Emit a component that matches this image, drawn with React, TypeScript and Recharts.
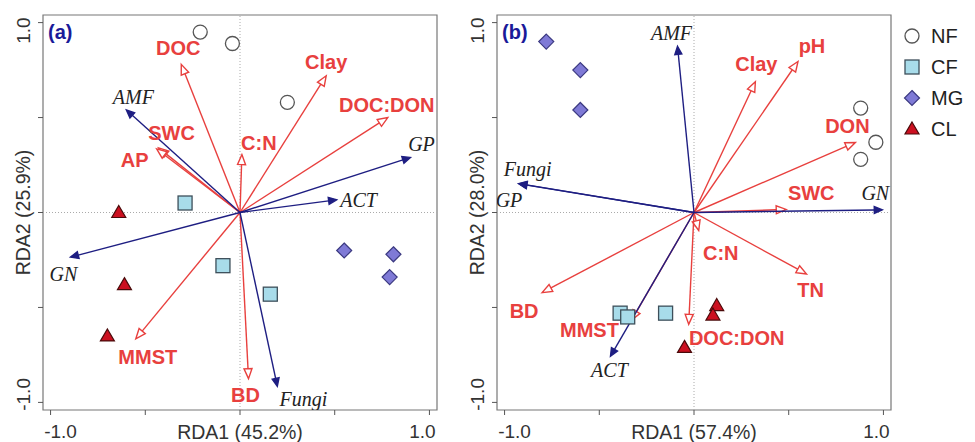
import React from 'react';
import { ScatterChart, Scatter, XAxis, YAxis, ReferenceLine, ReferenceArea } from 'recharts';

// site scores, panel (a)
const A_NF = [[-0.21, 0.95], [-0.04, 0.89], [0.25, 0.58]];
const A_CF = [[-0.29, 0.05], [-0.09, -0.28], [0.16, -0.43]];
const A_MG = [[0.55, -0.2], [0.81, -0.22], [0.79, -0.34]];
const A_CL = [[-0.64, 0.0], [-0.61, -0.38], [-0.7, -0.65]];

// site scores, panel (b)
const B_NF = [[0.88, 0.55], [0.96, 0.37], [0.88, 0.28]];
const B_CF = [[-0.39, -0.53], [-0.35, -0.55], [-0.15, -0.53]];
const B_MG = [[-0.78, 0.9], [-0.6, 0.75], [-0.6, 0.54]];
const B_CL = [[0.12, -0.49], [0.1, -0.54], [-0.05, -0.71]];

// soil variables (red arrows)
const A_ENV = ['DOC', 'Clay', 'DOC:DON', 'C:N', 'SWC', 'AP', 'MMST', 'BD'];
const A_ENV_X = [-0.31, 0.455, 0.78, 0.01, -0.43, -0.44, -0.55, 0.045];
const A_ENV_Y = [0.78, 0.72, 0.5, 0.305, 0.34, 0.335, -0.665, -0.875];
const B_ENV = ['Clay', 'pH', 'DON', 'SWC', 'C:N', 'TN', 'BD', 'MMST', 'DOC:DON'];
const B_ENV_X = [0.324, 0.549, 0.852, 0.487, 0.025, 0.594, -0.802, -0.33, -0.028];
const B_ENV_Y = [0.689, 0.795, 0.369, 0.016, -0.095, -0.324, -0.422, -0.567, -0.589];

// microbial groups (blue arrows)
const A_MIC = ['AMF', 'GP', 'ACT', 'GN', 'Fungi'];
const A_MIC_X = [-0.6, 0.9, 0.51, -0.895, 0.197];
const A_MIC_Y = [0.54, 0.29, 0.067, -0.235, -0.915];
const B_MIC = ['AMF', 'Fungi', 'GP', 'GN', 'ACT'];
const B_MIC_X = [-0.087, -0.926, -0.924, 0.994, -0.441];
const B_MIC_Y = [0.875, 0.152, 0.151, 0.014, -0.757];

const AXIS_TICKS = [-1, -0.5, 0, 0.5, 1];
const LEGEND = ['NF', 'CF', 'MG', 'CL'];

// label offsets from arrow tips, in px
const A_OFF: Record<string, [number, number]> = {
  DOC: [-3, -16], Clay: [0, -14], 'DOC:DON': [-1, -13], 'C:N': [17, -12], SWC: [13, -15],
  AP: [-22, 11], MMST: [12, 18], BD: [-3, 16],
  AMF: [7, -13], GP: [11, -13], ACT: [22, 0], GN: [-7, 17], Fungi: [26, 13],
};
const B_OFF: Record<string, [number, number]> = {
  Clay: [1, -18], pH: [14, -16], DON: [-8, -16], SWC: [25, -16], 'C:N': [22, 22],
  TN: [4, 16], BD: [-18, 18], MMST: [-42, 10], 'DOC:DON': [48, 14],
  AMF: [-6, -13], Fungi: [9, -15], GP: [-10, 16], GN: [-7, -17], ACT: [-1, 14],
};

const RED = '#e8403e';
const NAVY = '#1e1e82';
const SANS = '"Liberation Sans", Arial, sans-serif';
const SERIF = '"Liberation Serif", "Times New Roman", serif';

const pts = (arr: number[][]) => arr.map(([x, y]) => ({ x, y }));
const tips = (names: string[], xs: number[], ys: number[]) => names.map((name, i) => ({ name, x: xs[i], y: ys[i] }));

const NFShape = ({ cx, cy }: any) => <circle cx={cx} cy={cy} r={7} fill="#fff" stroke="#555" strokeWidth={1.3} />;
const CFShape = ({ cx, cy }: any) => (
  <rect x={cx - 7} y={cy - 7} width={14} height={14} fill="#a8dcea" stroke="#3d4f5a" strokeWidth={1.3} />
);
const MGShape = ({ cx, cy }: any) => (
  <polygon points={`${cx},${cy - 7.5} ${cx + 7.5},${cy} ${cx},${cy + 7.5} ${cx - 7.5},${cy}`} fill="#7f7ad6" stroke="#3b3980" strokeWidth={1.2} />
);
const CLShape = ({ cx, cy }: any) => (
  <polygon points={`${cx},${cy - 7} ${cx + 7},${cy + 5} ${cx - 7},${cy + 5}`} fill="#cc1020" stroke="#4a0a0a" strokeWidth={1.2} />
);

const arrow = (color: string, len: number, half: number, open: boolean) => (p: any) => {
  const { x1, y1, x2, y2 } = p;
  const dx = x2 - x1;
  const dy = y2 - y1;
  const d = Math.hypot(dx, dy) || 1;
  const ux = dx / d;
  const uy = dy / d;
  const bx = x2 - ux * len;
  const by = y2 - uy * len;
  const nx = -uy * half;
  const ny = ux * half;
  return (
    <g>
      <line x1={x1} y1={y1} x2={bx} y2={by} stroke={color} strokeWidth={1.4} />
      <polygon
        points={`${x2},${y2} ${bx + nx},${by + ny} ${bx - nx},${by - ny}`}
        fill={open ? '#fff' : color}
        stroke={color}
        strokeWidth={1.4}
      />
    </g>
  );
};

const XTick = ({ x, y, payload }: any) => {
  const v = payload.value;
  if (Math.abs(v) !== 1) return <g />;
  return (
    <text x={x + (v < 0 ? 10 : -7)} y={y + 21} textAnchor="middle" fontFamily={SANS} fontSize={19} fill="#333">
      {v.toFixed(1)}
    </text>
  );
};

const YTick = ({ y, payload }: any) => {
  const v = payload.value;
  if (Math.abs(v) !== 1) return <g />;
  const cy = y + (v > 0 ? 8 : -8);
  return (
    <text transform={`translate(30, ${cy}) rotate(-90)`} textAnchor="middle" fontFamily={SANS} fontSize={19} fill="#333">
      {v.toFixed(1)}
    </text>
  );
};

function Panel({ tag, xTitle, yTitle, nf, cf, mg, cl, env, mic, off }: any) {
  const envLabel = ({ cx, cy, payload }: any) => {
    const o = off[payload.name] || [0, 0];
    return (
      <text x={cx + o[0]} y={cy + o[1]} textAnchor="middle" dominantBaseline="central" fontFamily={SANS} fontWeight="bold" fontSize={20} fill={RED}>
        {payload.name}
      </text>
    );
  };
  const micLabel = ({ cx, cy, payload }: any) => {
    const o = off[payload.name] || [0, 0];
    return (
      <text x={cx + o[0]} y={cy + o[1]} textAnchor="middle" dominantBaseline="central" fontFamily={SERIF} fontStyle="italic" fontSize={20} fill="#222">
        {payload.name}
      </text>
    );
  };
  return (
    <ScatterChart width={470} height={442} margin={{ top: 15, right: 33, bottom: 0, left: 0 }}>
      <XAxis
        type="number"
        dataKey="x"
        domain={[-1.04, 1.04]}
        ticks={AXIS_TICKS}
        allowDataOverflow
        axisLine={false}
        tickSize={5}
        tickLine={{ stroke: '#555' }}
        height={32}
        tick={XTick}
        label={{
          content: ({ viewBox }: any) => (
            <text x={viewBox.x + viewBox.width / 2} y={viewBox.y + 29} textAnchor="middle" fontFamily={SANS} fontSize={19.5} fill="#333">
              {xTitle}
            </text>
          ),
        }}
      />
      <YAxis
        type="number"
        dataKey="y"
        domain={[-1.04, 1.04]}
        ticks={AXIS_TICKS}
        allowDataOverflow
        axisLine={false}
        tickSize={5}
        tickLine={{ stroke: '#555' }}
        width={43}
        tick={YTick}
        label={{
          content: ({ viewBox }: any) => (
            <text transform={`translate(30, ${viewBox.y + viewBox.height / 2}) rotate(-90)`} textAnchor="middle" fontFamily={SANS} fontSize={19.5} fill="#333">
              {yTitle}
            </text>
          ),
        }}
      />
      <ReferenceArea
        x1={-1.04}
        x2={1.04}
        y1={-1.04}
        y2={1.04}
        fill="none"
        stroke="#777"
        strokeWidth={1.2}
        label={{
          content: ({ viewBox }: any) => (
            <text x={viewBox.x + 5} y={viewBox.y + 24} fontFamily={SANS} fontWeight="bold" fontSize={20} fill="#1a1a99">
              {tag}
            </text>
          ),
        }}
      />
      <ReferenceLine x={0} stroke="#aaa" strokeDasharray="1 2" />
      <ReferenceLine y={0} stroke="#aaa" strokeDasharray="1 2" />
      {env.map((a: any) => (
        <ReferenceLine key={'e' + a.name} segment={[{ x: 0, y: 0 }, { x: a.x, y: a.y }]} shape={arrow(RED, 10, 4, true)} />
      ))}
      {mic.map((a: any) => (
        <ReferenceLine key={'m' + a.name} segment={[{ x: 0, y: 0 }, { x: a.x, y: a.y }]} shape={arrow(NAVY, 8, 3.5, false)} />
      ))}
      <Scatter data={pts(nf)} shape={NFShape} isAnimationActive={false} />
      <Scatter data={pts(cf)} shape={CFShape} isAnimationActive={false} />
      <Scatter data={pts(mg)} shape={MGShape} isAnimationActive={false} />
      <Scatter data={pts(cl)} shape={CLShape} isAnimationActive={false} />
      <Scatter data={env} shape={envLabel} isAnimationActive={false} />
      <Scatter data={mic} shape={micLabel} isAnimationActive={false} />
    </ScatterChart>
  );
}

const LEGEND_SHAPES = [NFShape, CFShape, MGShape, CLShape];

function Legend() {
  return (
    <svg width={80} height={140} style={{ position: 'absolute', left: 895, top: 15 }}>
      {LEGEND.map((g, i) => {
        const S = LEGEND_SHAPES[i];
        const cy = 21 + i * 31;
        return (
          <g key={g}>
            <S cx={17} cy={cy} />
            <text x={36} y={cy} dominantBaseline="central" fontFamily={SANS} fontSize={20} fill="#222">
              {g}
            </text>
          </g>
        );
      })}
    </svg>
  );
}

export default function App() {
  return (
    <div style={{ position: 'absolute', left: 0, top: 0, width: 975, height: 442, background: '#fff' }}>
      <div style={{ position: 'absolute', left: 0, top: 0 }}>
        <Panel
          tag="(a)"
          xTitle="RDA1 (45.2%)"
          yTitle="RDA2 (25.9%)"
          nf={A_NF}
          cf={A_CF}
          mg={A_MG}
          cl={A_CL}
          env={tips(A_ENV, A_ENV_X, A_ENV_Y)}
          mic={tips(A_MIC, A_MIC_X, A_MIC_Y)}
          off={A_OFF}
        />
      </div>
      <div style={{ position: 'absolute', left: 454, top: 0 }}>
        <Panel
          tag="(b)"
          xTitle="RDA1 (57.4%)"
          yTitle="RDA2 (28.0%)"
          nf={B_NF}
          cf={B_CF}
          mg={B_MG}
          cl={B_CL}
          env={tips(B_ENV, B_ENV_X, B_ENV_Y)}
          mic={tips(B_MIC, B_MIC_X, B_MIC_Y)}
          off={B_OFF}
        />
      </div>
      <Legend />
    </div>
  );
}
